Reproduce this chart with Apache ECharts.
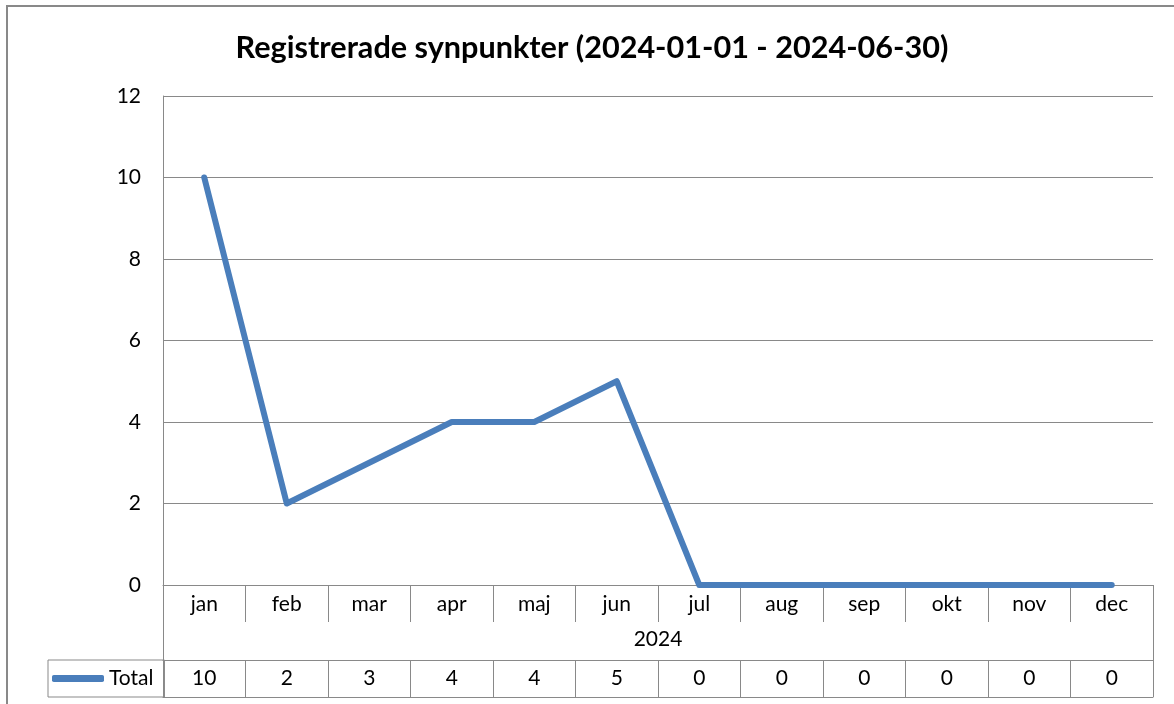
<!DOCTYPE html>
<html>
<head>
    <meta charset="UTF-8">
    <title>Registrerade synpunkter</title>
    <script src="https://cdn.jsdelivr.net/npm/echarts@6/dist/echarts.min.js"></script>
    <style>
        html, body { margin: 0; padding: 0; background: #fff; }
        #main { width: 1174px; height: 704px; }
    </style>
</head>
<body>
    <div id="main"></div>
    <script>
        // data
        var months = ['jan', 'feb', 'mar', 'apr', 'maj', 'jun', 'jul', 'aug', 'sep', 'okt', 'nov', 'dec'];
        var totals = [10, 2, 3, 4, 4, 5, 0, 0, 0, 0, 0, 0];
        var yTicks = [0, 2, 4, 6, 8, 10, 12];
        var yearLabel = '2024';
        var seriesName = 'Total';
        var titleText = 'Registrerade synpunkter (2024-01-01 - 2024-06-30)';

        var font = 'Lato';
        var fs = 21;
        var gray = '#898989';
        var blue = '#4a7ebb';

        var myChart = echarts.init(document.getElementById('main'));

        var option = {
            backgroundColor: '#fff',
            animation: false,
            title: {
                text: titleText,
                left: 587,
                textAlign: 'center',
                top: 28,
                textStyle: { fontFamily: font, fontWeight: 'bold', fontSize: 30.6, color: '#000' }
            },
            // outer chart frame
            graphic: [{
                type: 'rect',
                shape: { x: 7, y: 6, width: 1250, height: 800 },
                style: { fill: 'none', stroke: gray, lineWidth: 2 },
                silent: true
            }],
            legend: {
                data: [seriesName],
                left: 48,
                top: 660,
                icon: 'roundRect',
                itemWidth: 52,
                itemHeight: 7,
                padding: [7, 11, 7, 4],
                borderColor: gray,
                borderWidth: 1,
                borderRadius: 0,
                textStyle: { fontFamily: font, fontSize: fs, lineHeight: 23, color: '#000' }
            },
            grid: { left: 163, right: 21, top: 96, bottom: 119, containLabel: false },
            xAxis: [
                {   // month row
                    type: 'category',
                    data: months,
                    boundaryGap: true,
                    axisLine: { lineStyle: { color: gray, width: 1 } },
                    axisTick: { show: true, length: 37, lineStyle: { color: gray } },
                    axisLabel: { interval: 0, margin: 9, fontFamily: font, fontSize: fs, color: '#000' },
                    splitLine: { show: false }
                },
                {   // data table values row
                    type: 'category',
                    data: months,
                    position: 'bottom',
                    offset: 75,
                    axisLine: { lineStyle: { color: gray, width: 1 } },
                    axisTick: { show: true, length: 37, lineStyle: { color: gray } },
                    axisLabel: {
                        interval: 0, margin: 8, fontFamily: font, fontSize: fs, color: '#000',
                        formatter: function (v, i) { return String(totals[i]); }
                    }
                },
                {   // year row: outer borders only, with year name
                    type: 'category',
                    data: months,
                    position: 'bottom',
                    offset: 37,
                    axisLine: { show: false },
                    axisTick: {
                        show: true, length: 38, lineStyle: { color: gray },
                        interval: function (index) { return index === 0; }
                    },
                    axisLabel: { show: false },
                    name: yearLabel,
                    nameLocation: 'middle',
                    nameGap: 7,
                    nameTextStyle: { fontFamily: font, fontSize: fs, color: '#000', verticalAlign: 'top' }
                },
                {   // bottom line of data table
                    type: 'category',
                    data: months,
                    position: 'bottom',
                    offset: 112,
                    axisLine: { lineStyle: { color: gray, width: 1 } },
                    axisTick: { show: false },
                    axisLabel: { show: false }
                }
            ],
            yAxis: {
                type: 'value',
                min: yTicks[0],
                max: yTicks[yTicks.length - 1],
                interval: yTicks[1] - yTicks[0],
                axisLine: { show: true, lineStyle: { color: gray, width: 1 } },
                axisTick: { show: false },
                axisLabel: { margin: 22, fontFamily: font, fontSize: fs, color: '#000' },
                splitLine: { lineStyle: { color: gray, width: 1 } }
            },
            series: [{
                name: seriesName,
                type: 'line',
                data: totals,
                xAxisIndex: 0,
                yAxisIndex: 0,
                showSymbol: false,
                symbol: 'none',
                itemStyle: { color: blue },
                lineStyle: { color: blue, width: 6, cap: 'round', join: 'round' }
            }]
        };

        myChart.setOption(option);
    </script>
</body>
</html>
